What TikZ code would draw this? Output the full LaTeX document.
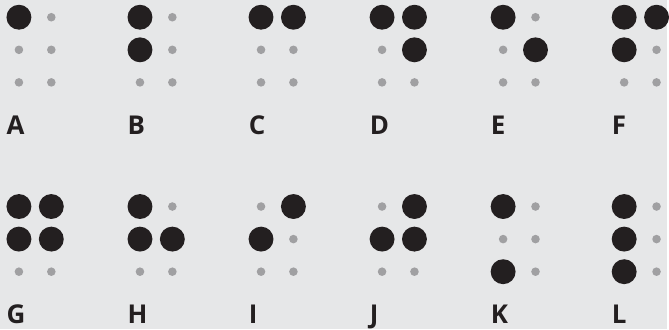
\documentclass[tikz,border=0pt]{standalone}
\usepackage{fontspec}
\setmainfont{Open Sans}
\usepackage{xcolor}

\definecolor{paper}{HTML}{E6E7E8}
\definecolor{ink}{HTML}{231F20}
\definecolor{pale}{HTML}{A0A0A2}

\begin{document}
\begin{tikzpicture}[x=1pt,y=-1pt,
    raised/.style={draw=none,circle,fill=ink,inner sep=0pt,minimum size=25pt},
    flat/.style={draw=none,circle,fill=pale,inner sep=0pt,minimum size=8.6pt},
    letter/.style={anchor=base west,inner sep=0pt,text=ink,font=\bfseries\fontsize{26}{26}\selectfont}]
            \fill[paper] (0,0) rectangle (669,330);
            % dots 0-2 left column top to bottom, 3-5 right column
            \foreach \ltr/\col/\row/\pat in {
              A/0/0/{raised,flat,flat,flat,flat,flat},
              B/1/0/{raised,raised,flat,flat,flat,flat},
              C/2/0/{raised,flat,flat,raised,flat,flat},
              D/3/0/{raised,flat,flat,raised,raised,flat},
              E/4/0/{raised,flat,flat,flat,raised,flat},
              F/5/0/{raised,raised,flat,raised,flat,flat},
              G/0/1/{raised,raised,flat,raised,raised,flat},
              H/1/1/{raised,raised,flat,flat,raised,flat},
              I/2/1/{flat,raised,flat,raised,flat,flat},
              J/3/1/{flat,raised,flat,raised,raised,flat},
              K/4/1/{raised,flat,raised,flat,flat,flat},
              L/5/1/{raised,raised,raised,flat,flat,flat}} {
              \foreach \s [count=\k from 0] in \pat {
                \pgfmathsetmacro{\cx}{19+121.5*\col+32.5*int(\k/3)}
                \pgfmathsetmacro{\cy}{17.3+190*\row+32.7*mod(\k,3)}
                \node[\s] (\ltr\k) at (\cx,\cy) {};
              }
              \node[letter] (lbl\ltr) at ({6.5+121.5*\col},{135+190*\row}) {\ltr};
            }
          \end{tikzpicture}
\end{document}
